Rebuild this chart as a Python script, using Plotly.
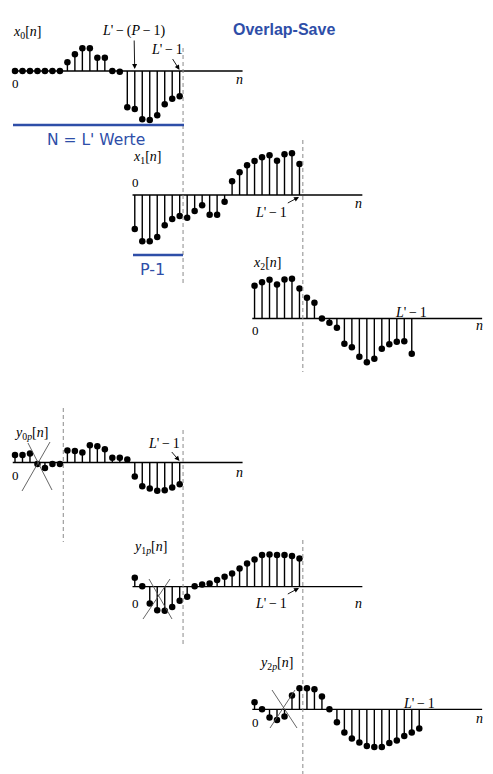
import plotly.graph_objects as go

# ---------------- data (sample values, amplitude units) ----------------
x0_vals = [0, 0, 0, 0, 0, 0, 0, 8.7, 16.7, 22.7, 22.7, 13.3, 13.3, 0, -0.7,
           -36.3, -38, -48.3, -49, -44.3, -33.3, -27.7, -25.3]
x1_vals = [-34, -46.3, -46.3, -42, -30.3, -24, -21, -22.7, -16, -10.3, -19.7, -19.7,
           -6.7, 13.7, 22.7, 29.7, 34, 37.7, 39.7, 34.3, 40.7, 41.7, 31]
x2_vals = [32.7, 36.3, 38.7, 34, 39, 39.7, 30, 20.7, 15.7, 0, -4.3, -9.3, -25.3,
           -28.7, -38.3, -43.7, -40.3, -30.3, -25.7, -23.3, -22.7, -35.3]
y0p_vals = [7.5, 7.5, 9, -1.5, -5.5, -1.5, -1.5, 12, 11.5, 10, 17.3, 16.3, 13.3,
            4.7, 4.7, 3, -14, -23.7, -26, -28.3, -27.7, -25, -21.7]
y1p_vals = [9, 0.5, -16.7, -23.5, -24, -20.3, -14, -10, 0.5, 2.3, 3.3, 6.7, 10,
            13.3, 18.3, 23.3, 27.3, 31.7, 32.3, 31.7, 31.7, 30.7, 28.3]
y2p_vals = [7, 0, -8.3, -10.7, -7.3, 13.7, 21, 21, 20, 12.7, 0, -13, -23.3,
            -29.3, -33.3, -36.7, -37.7, -37.7, -33.7, -31.3, -26.7, -23.3, -19.3]

L_PRIME = 23          # block length L'
P_MINUS_1 = 7         # overlap P-1
HOP = L_PRIME - P_MINUS_1  # 16

# ---------------- layout constants (pixels) ----------------
W, H = 493, 774
PX0 = 15.0      # pixel position of n = 0
DX = 7.486      # pixels per sample

BLUE = "#2e4ea8"
SERIF = "Liberation Serif"
SANS = "DejaVu Sans"
TS = "\u2009"   # thin space


def px(x):
    return x / W


def py(y):
    return 1 - y / H


# (label, values, block index, baseline pixel y)
panels = [
    ("<i>x</i><sub>0</sub>[<i>n</i>]", x0_vals, 0, 71.0),
    ("<i>x</i><sub>1</sub>[<i>n</i>]", x1_vals, 1, 195.0),
    ("<i>x</i><sub>2</sub>[<i>n</i>]", x2_vals, 2, 318.5),
    ("<i>y</i><sub>0<i>p</i></sub>[<i>n</i>]", y0p_vals, 0, 462.5),
    ("<i>y</i><sub>1<i>p</i></sub>[<i>n</i>]", y1p_vals, 1, 586.7),
    ("<i>y</i><sub>2<i>p</i></sub>[<i>n</i>]", y2p_vals, 2, 709.3),
]

fig = go.Figure()
layout_axes = {}

for i, (lab, vals, blk, base) in enumerate(panels):
    yname = "y" if i == 0 else f"y{i + 1}"
    ykey = "yaxis" if i == 0 else f"yaxis{i + 1}"
    off = blk * HOP
    n = [off + k for k in range(len(vals))]
    # axis line
    fig.add_trace(go.Scatter(x=[off - 0.3, off + 30.4], y=[0, 0], mode="lines",
                             line=dict(color="black", width=1.3),
                             xaxis="x", yaxis=yname, hoverinfo="skip", showlegend=False))
    sx, sy = [], []
    for xx, v in zip(n, vals):
        sx += [xx, xx, None]
        sy += [0, v, None]
    fig.add_trace(go.Scatter(x=sx, y=sy, mode="lines",
                             line=dict(color="black", width=1.4),
                             xaxis="x", yaxis=yname, hoverinfo="skip", showlegend=False))
    fig.add_trace(go.Scatter(x=n, y=vals, mode="markers",
                             marker=dict(color="black", size=6.5),
                             xaxis="x", yaxis=yname, showlegend=False))
    ax = dict(range=[base - H, base], visible=False, fixedrange=True)
    if i > 0:
        ax["overlaying"] = "y"
    layout_axes[ykey] = ax

# ---------------- decorations ----------------
shapes = []

# dashed block boundaries: (n position, y top px, y bottom px)
dash_lines = [
    (P_MINUS_1 - 0.55 + HOP, 48, 286),
    (P_MINUS_1 - 0.55 + 2 * HOP, 140, 372),
    (P_MINUS_1 - 0.55, 408, 542),
    (P_MINUS_1 - 0.55 + HOP, 430, 646),
    (P_MINUS_1 - 0.55 + 2 * HOP, 540, 774),
]
for xn, y0, y1 in dash_lines:
    shapes.append(dict(type="line", xref="x", yref="paper", x0=xn, x1=xn,
                       y0=py(y0), y1=py(y1),
                       line=dict(color="#8a8a8a", width=1, dash="4px,3px")))

# blue brackets
shapes.append(dict(type="line", xref="paper", yref="paper", x0=px(13), x1=px(184),
                   y0=py(125), y1=py(125), line=dict(color=BLUE, width=2.5)))
shapes.append(dict(type="line", xref="paper", yref="paper", x0=px(133), x1=px(183),
                   y0=py(255), y1=py(255), line=dict(color=BLUE, width=2.5)))

# discard crosses
crosses = [
    ((28, 443), (52, 490), (22, 491), (50, 442)),
    ((149, 579), (172, 619), (143, 619), (170, 579)),
    ((272, 690), (297, 728), (270, 728), (295, 690)),
]
for a, b, c, d in crosses:
    for p, q in ((a, b), (c, d)):
        shapes.append(dict(type="line", xref="paper", yref="paper",
                           x0=px(p[0]), y0=py(p[1]), x1=px(q[0]), y1=py(q[1]),
                           line=dict(color="#555555", width=0.9)))

annotations = []


def txt(x, y, s, size=14, family=SERIF, color="black", bold=False):
    if bold:
        s = f"<b>{s}</b>"
    annotations.append(dict(x=px(x), y=py(y), xref="paper", yref="paper", text=s,
                            showarrow=False, xanchor="center", yanchor="middle",
                            font=dict(size=size, family=family, color=color)))


def arrow_txt(xt, yt, xh, yh, s, size=14):
    annotations.append(dict(x=px(xh), y=py(yh), xref="paper", yref="paper", text=s,
                            showarrow=True, ax=xt - xh, ay=yt - yh,
                            arrowhead=2, arrowsize=1.1, arrowwidth=0.9, standoff=0,
                            arrowcolor="black",
                            font=dict(size=size, family=SERIF, color="black")))


# panel labels
label_pos = [(27, 32), (147, 157), (267, 264), (31, 433), (150, 547), (276, 663)]
for (lab, _, _, _), (lx, ly) in zip(panels, label_pos):
    txt(lx, ly, lab, size=14)

# "0" labels
for zx, zy in [(15, 84), (135, 183), (255, 330), (15, 476), (135, 603), (255, 722)]:
    txt(zx, zy, "0", size=13)

# "n" labels
for nx_, ny_ in [(239, 79), (358, 203), (479, 326), (239, 472), (358, 603), (479, 718)]:
    txt(nx_, ny_, "<i>n</i>", size=14)

# L' labels
LP1 = f"<i>L</i>'{TS}−{TS}1"
arrow_txt(134, 31, 134.7, 69, f"<i>L</i>'{TS}−{TS}(<i>P</i>{TS}−{TS}1)", size=14)
arrow_txt(167, 50, 179.5, 70, LP1)
arrow_txt(271, 212, 299, 197, LP1)
txt(411, 312, LP1)
arrow_txt(164, 443, 179.5, 461, LP1)
arrow_txt(271, 603, 299, 588, LP1)
txt(419, 703, LP1)

# blue texts
txt(284, 30, "Overlap-Save", size=16, family="Liberation Sans", color=BLUE, bold=True)
txt(96, 140, "N = L' Werte", size=15.5, family=SANS, color=BLUE)
txt(152, 270, "P-1", size=16, family=SANS, color=BLUE)

fig.update_layout(
    width=W, height=H,
    margin=dict(l=0, r=0, t=0, b=0),
    paper_bgcolor="white", plot_bgcolor="white",
    showlegend=False,
    xaxis=dict(range=[(0 - PX0) / DX, (W - PX0) / DX], visible=False,
               fixedrange=True, domain=[0, 1]),
    shapes=shapes,
    annotations=annotations,
    **layout_axes,
)

fig.write_html("out.html", post_script="document.body.style.margin='0';",
               config={"displayModeBar": False})
